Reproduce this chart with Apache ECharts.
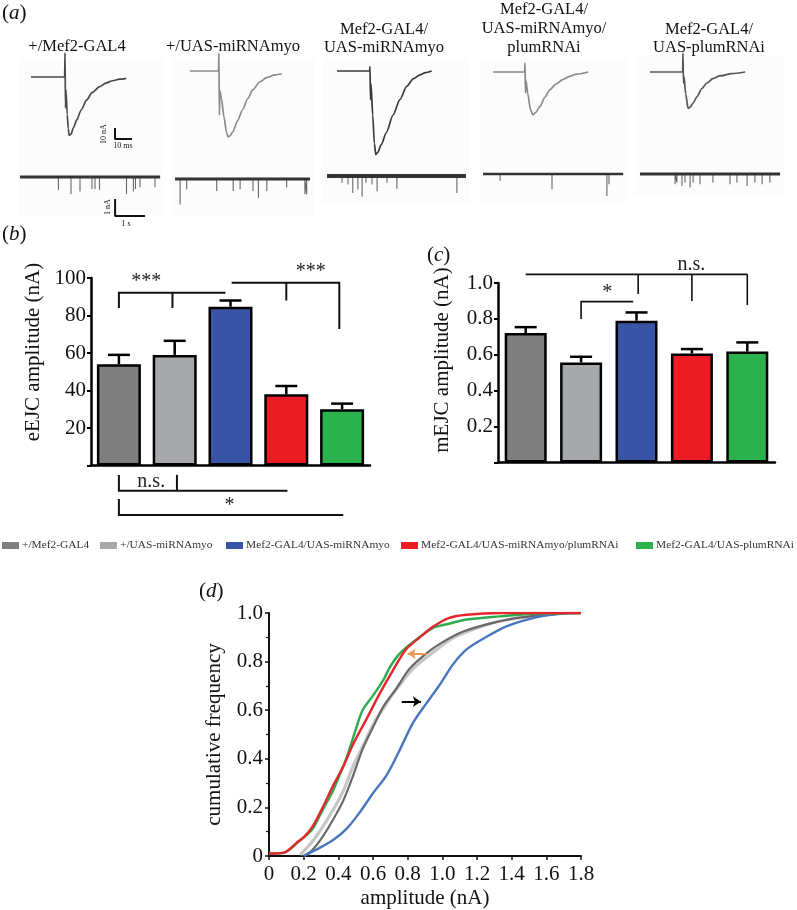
<!DOCTYPE html>
<html><head><meta charset="utf-8">
<script src="https://cdn.jsdelivr.net/npm/echarts@6/dist/echarts.min.js"></script>
<style>html,body{margin:0;padding:0;background:#fff}#c{width:797px;height:910px}</style>
</head><body><div id="c"></div>
<script>
// ---------------- DATA ----------------
const genotypes = ['+/Mef2-GAL4','+/UAS-miRNAmyo','Mef2-GAL4/UAS-miRNAmyo','Mef2-GAL4/UAS-miRNAmyo/plumRNAi','Mef2-GAL4/UAS-plumRNAi'];
const panelTitles = [['+/Mef2-GAL4'],['+/UAS-miRNAmyo'],['Mef2-GAL4/','UAS-miRNAmyo'],['Mef2-GAL4/','UAS-miRNAmyo/','plumRNAi'],['Mef2-GAL4/','UAS-plumRNAi']];
const barColors = ['#7f7f7f','#a7a8ab','#3a54a5','#ec1c24','#2bb24c'];

// (b) eEJC amplitude (nA)
const eEJCmean = [54, 59, 84.7, 38, 30];
const eEJCsem  = [5, 7.5, 3.3, 4.4, 3];
// (c) mEJC amplitude (nA)
const mEJCmean = [0.721, 0.557, 0.79, 0.607, 0.618];
const mEJCsem  = [0.033, 0.032, 0.046, 0.025, 0.051];

// (a) evoked traces [ms, nA]
const trace1 = [[0,0],[19.8,0],[20,22],[20.3,-28],[20.6,-12],[21.3,-34],[21.9,-47],[22.4,-53],[23.5,-52],[25,-46],[26.9,-39],[29.5,-30],[32.7,-21],[36,-14],[40.4,-8.8],[44,-5.5],[48,-3.4],[52,-2],[56,-1.2]];
const trace2 = [[0,0],[16.8,0],[17,16],[17.3,-40],[17.6,-18],[18.5,-25],[20,-42],[21.5,-56],[22.4,-60],[23.5,-59],[25.3,-55],[28,-45],[31,-35],[34,-25],[37,-17],[41,-10],[45,-6],[50,-3.5],[54,-2.5]];
const trace3 = [[0,0],[19.2,0],[19.4,4],[19.7,-26],[20,-12],[21,-40],[22,-66],[22.8,-76],[24,-74],[26,-67],[29,-56],[33,-40],[37,-26],[41,-14],[45,-7],[48.8,-3.6],[52,-1.5],[55.7,0]];
const trace4 = [[0,0],[18.6,0],[18.8,8],[19.1,-19],[19.4,-8],[20.5,-20],[22,-34],[23.5,-39],[25,-37],[27.6,-31.5],[30.5,-23],[33.5,-16],[37,-11],[41,-7],[45,-4],[49,-2],[56,0]];
const trace5 = [[0,0],[19.2,0],[19.4,17],[19.7,-10],[20,-4],[21,-20],[22.4,-33],[23.5,-32],[25.5,-28],[27.6,-22.5],[30.5,-15],[33.5,-10],[37,-6],[41,-3.6],[48,-1.5],[56,0]];
const traces = [trace1, trace2, trace3, trace4, trace5];

// (a) spontaneous recordings: length (s) and minis [time s, amplitude nA]
const noiseLength = [4.67, 4.5, 4.63, 4.67, 4.67];
const minis1 = [[1.28,0.75],[1.7,1.0],[2.0,0.85],[2.4,0.7],[2.5,0.7],[2.65,0.75],[3.55,1.0],[3.78,0.85],[3.85,0.7],[4.0,0.6],[4.5,0.6]];
const minis2 = [[0.17,1.5],[0.39,0.6],[1.39,0.7],[1.94,0.7],[2.17,0.6],[2.6,0.7],[2.78,1.1],[3.06,0.7],[3.72,0.5],[4.33,0.9],[4.39,0.9]];
const minis3 = [[0.5,0.4],[0.7,0.5],[0.86,1.0],[1.03,0.8],[1.17,1.2],[1.3,0.4],[1.5,0.5],[1.67,0.9],[2.0,0.4],[2.33,0.75],[4.33,1.0]];
const minis4 = [[0.57,0.4],[2.3,0.9],[4.13,1.3],[4.2,0.6]];
const minis5 = [[1.17,0.6],[1.23,0.5],[1.4,0.7],[1.5,0.5],[1.67,0.8],[1.77,0.5],[2.0,0.6],[2.43,0.5],[3.0,0.6],[3.23,0.5],[3.57,0.7],[3.83,0.5],[4.07,0.6],[4.33,0.5]];
const minis = [minis1, minis2, minis3, minis4, minis5];

// scale bars (in trace units)
const scaleEvoked = [[49.4,-46.4],[49.4,-56.4],[59.4,-56.4]];   // 10 nA, 10 ms
const scaleMini = [[3.17,-1.29],[3.17,-2.29],[4.17,-2.29]];      // 1 nA, 1 s

// (d) cumulative frequency curves [amplitude nA, cumulative frequency]
const cumLightGray = [[0.18,0.005],[0.25,0.06],[0.31,0.12],[0.37,0.19],[0.43,0.27],[0.485,0.37],[0.54,0.45],[0.6,0.54],[0.68,0.63],[0.75,0.7],[0.83,0.77],[0.95,0.84],[1.06,0.897],[1.2,0.938],[1.33,0.966],[1.52,0.986],[1.72,1.0]];
const cumDarkGray = [[0.2,0],[0.25,0.025],[0.31,0.08],[0.37,0.15],[0.43,0.23],[0.485,0.33],[0.54,0.44],[0.6,0.53],[0.66,0.615],[0.735,0.69],[0.81,0.77],[0.91,0.835],[0.99,0.875],[1.1,0.918],[1.24,0.95],[1.43,0.98],[1.62,0.993],[1.72,1.0]];
const cumBlue = [[0.2,0],[0.27,0.025],[0.37,0.066],[0.45,0.114],[0.52,0.176],[0.6,0.258],[0.68,0.334],[0.75,0.43],[0.83,0.547],[0.91,0.63],[0.99,0.71],[1.06,0.787],[1.14,0.85],[1.25,0.9],[1.37,0.945],[1.49,0.973],[1.6,0.99],[1.72,0.999],[1.8,1.0]];
const cumGreen = [[0,0.01],[0.08,0.012],[0.18,0.065],[0.25,0.11],[0.31,0.19],[0.37,0.27],[0.45,0.41],[0.5,0.52],[0.54,0.6],[0.6,0.66],[0.66,0.725],[0.7,0.78],[0.75,0.83],[0.83,0.88],[0.95,0.94],[0.99,0.948],[1.06,0.96],[1.14,0.973],[1.33,0.986],[1.52,0.997],[1.8,1.0]];
const cumRed = [[0,0.01],[0.09,0.015],[0.16,0.055],[0.2,0.077],[0.25,0.12],[0.31,0.2],[0.37,0.29],[0.43,0.37],[0.485,0.46],[0.56,0.56],[0.64,0.67],[0.72,0.77],[0.79,0.85],[0.87,0.9],[0.95,0.945],[1.04,0.98],[1.14,0.993],[1.33,1.0],[1.8,1.0]];
const arrowOrange = [[0.91,0.832],[0.80,0.832]];
const arrowBlack = [[0.766,0.635],[0.876,0.635]];

// significance brackets (category index, value)
const bBrackets = [
  [[0,84],[0,92.2],[1.91,92.2]], [[0.96,84],[0.96,92.2]],
  [[2.02,97.5],[3.95,97.5],[3.95,72.8]], [[3.0,88],[3.0,97.5]],
  [[0,-5],[0,-13.4],[3.02,-13.4]], [[1.04,-5],[1.04,-13.4]],
  [[0,-17.9],[0,-26.4],[4.02,-26.4]]
];
const bLabels = [[0.49,98,'***'],[3.44,103.4,'***'],[0.58,-8.6,'n.s.'],[1.98,-21.5,'*']];
const cBrackets = [
  [[0,1.048],[4.0,1.048]], [[2.03,0.939],[2.03,1.048]], [[3.0,0.90],[3.0,1.048]], [[4.0,0.877],[4.0,1.048]],
  [[1.0,0.80],[1.0,0.896],[1.94,0.896]]
];
const cLabels = [[2.99,1.10,'n.s.'],[1.47,0.945,'*']];

// ---------------- LAYOUT / OPTIONS ----------------
const FF = '"Liberation Serif", "Times New Roman", serif';
const evokedGrid = [[31,44],[190,38],[337,38],[493,39],[650,39]];
const miniGrid = [[20,168.5],[175,170.5],[327,167.5],[483,165.5],[640,165.5]];
const traceColors = ['#4a4a4a','#8a8a8a','#3a3a3a','#8a8a8a','#555555'];
const bandWidths = [3,3,4,2.5,3];

const grids = [], xAxes = [], yAxes = [], series = [];
function hiddenAxes(gi, xmin, xmax, ymin, ymax){
  xAxes.push({gridIndex:gi, type:'value', min:xmin, max:xmax, show:false});
  yAxes.push({gridIndex:gi, type:'value', min:ymin, max:ymax, show:false});
}
// evoked
evokedGrid.forEach((g,i)=>{
  grids.push({left:g[0], top:g[1], width:102, height:121});
  hiddenAxes(i, 0, 60, -80, 30);
  series.push({type:'line', xAxisIndex:i, yAxisIndex:i, data:traces[i], showSymbol:false, smooth:0.25, smoothMonotone:'x',
    lineStyle:{color:traceColors[i], width:1.7}, silent:true});
});
// minis
miniGrid.forEach((g,i)=>{
  const gi = 5+i;
  grids.push({left:g[0], top:g[1], width:150, height:59.5});
  hiddenAxes(gi, 0, 5, -3, 0.5);
  const pts = [[0,0]];
  minis[i].forEach(([t,a])=>{pts.push([t,0],[t,-a],[t,0]);});
  pts.push([noiseLength[i],0]);
  series.push({type:'line', xAxisIndex:gi, yAxisIndex:gi, data:pts, showSymbol:false, lineStyle:{color:'#666', width:1.1}, silent:true});
  series.push({type:'line', xAxisIndex:gi, yAxisIndex:gi, data:[[0,0],[noiseLength[i],0]], showSymbol:false, lineStyle:{color:'#333', width:bandWidths[i]}, silent:true});
});
// scale bars
series.push({type:'line', xAxisIndex:0, yAxisIndex:0, data:scaleEvoked, showSymbol:false, lineStyle:{color:'#111', width:2}, silent:true});
series.push({type:'line', xAxisIndex:5, yAxisIndex:5, data:scaleMini, showSymbol:false, lineStyle:{color:'#111', width:2}, silent:true});

// bar panels
function barPanel(gi, xCat, xVal, yi, left, top, width, height, means, sems, ymax, fmt, bw, brackets, labels, blw){
  grids.push({left, top, width, height});
  xAxes[xCat] = {gridIndex:gi, type:'category', data:genotypes, axisLine:{onZero:false, lineStyle:{color:'#000', width:2.5}}, axisTick:{show:false}, axisLabel:{show:false}};
  xAxes[xVal] = {gridIndex:gi, type:'value', min:-0.5, max:4.5, show:false};
  yAxes[yi] = {gridIndex:gi, type:'value', min:0, max:ymax, interval:ymax/5, splitLine:{show:false},
    axisLine:{show:true, onZero:false, lineStyle:{color:'#000', width:2.5}}, axisTick:{show:true, length:4, lineStyle:{color:'#000', width:2}},
    axisLabel:{fontFamily:FF, fontSize:21, color:'#111', margin:5, formatter:fmt}};
  genotypes.forEach((g,i)=>{
    series.push({type:'bar', name:g, xAxisIndex:xCat, yAxisIndex:yi, data:means.map((v,j)=> j===i ? v : '-'),
      barWidth:bw, barGap:'-100%', itemStyle:{color:barColors[i], borderColor:'#000', borderWidth:2.5}, silent:true});
  });
  series.push({type:'custom', xAxisIndex:xVal, yAxisIndex:yi, z:4, silent:true,
    data: means.map((m,i)=>[i,m,sems[i]]),
    renderItem(params, api){
      const x=api.value(0), m=api.value(1), e=api.value(2);
      const p1=api.coord([x,m]), p2=api.coord([x,m+e]); const hw=11;
      return {type:'group', children:[
        {type:'line', shape:{x1:p1[0],y1:p1[1],x2:p2[0],y2:p2[1]}, style:{stroke:'#000', lineWidth:2.5}},
        {type:'line', shape:{x1:p2[0]-hw,y1:p2[1],x2:p2[0]+hw,y2:p2[1]}, style:{stroke:'#000', lineWidth:2.5}}]};
    }});
  series.push({type:'custom', xAxisIndex:xVal, yAxisIndex:yi, z:4, silent:true, clip:false,
    data: brackets.map((l,i)=>[l[0][0], l[0][1], i]),
    renderItem(params, api){
      const pts = brackets[params.dataIndex].map(p=>api.coord(p));
      return {type:'polyline', shape:{points:pts}, style:{stroke:'#111', lineWidth:blw, fill:null}};
    }});
  series.push({type:'custom', xAxisIndex:xVal, yAxisIndex:yi, z:4, silent:true, clip:false,
    data: labels.map((l,i)=>[l[0], l[1], i]),
    renderItem(params, api){
      const l = labels[params.dataIndex]; const p = api.coord([l[0], l[1]]);
      return {type:'text', x:p[0], y:p[1], style:{text:l[2], font:'20px '+FF, fill:'#222', align:'center', verticalAlign:'middle'}};
    }});
}
barPanel(10, 10, 11, 10, 91, 278, 279, 187.5, eEJCmean, eEJCsem, 100, v=> v===0 ? '' : String(v), 44, bBrackets, bLabels, 2);
barPanel(11, 12, 13, 11, 498, 283, 277, 179.5, mEJCmean, mEJCsem, 1.0, v=> v===0 ? '' : v.toFixed(1), 42, cBrackets, cLabels, 1.6);

// (d) cumulative
grids.push({left:269, top:613, width:312, height:243});
xAxes[14] = {gridIndex:12, type:'value', min:0, max:1.8, interval:0.2, name:'amplitude (nA)', nameLocation:'middle', nameGap:32,
  nameTextStyle:{fontFamily:FF, fontSize:21, color:'#111'},
  axisLine:{onZero:false, lineStyle:{color:'#111', width:2}}, axisTick:{show:true, length:4, lineStyle:{color:'#111', width:1.5}},
  axisLabel:{fontFamily:FF, fontSize:21, color:'#111', margin:8, formatter:v=> v===0 ? '0' : v.toFixed(1)}, splitLine:{show:false}};
yAxes[12] = {gridIndex:12, type:'value', min:0, max:1, interval:0.2, name:'cumulative frequency', nameLocation:'middle', nameGap:44,
  nameTextStyle:{fontFamily:FF, fontSize:21, color:'#111'},
  axisLine:{show:true, onZero:false, lineStyle:{color:'#111', width:2}}, axisTick:{show:true, length:4, lineStyle:{color:'#111', width:1.5}},
  minorTick:{show:true, splitNumber:2, length:3, lineStyle:{color:'#111', width:1.2}},
  axisLabel:{fontFamily:FF, fontSize:21, color:'#111', margin:6, formatter:v=> v===0 ? '0' : v.toFixed(1)}, splitLine:{show:false}};
const cumSets = [
  ['cum +/UAS-miRNAmyo', cumLightGray, '#c6c6c6', 3.2],
  ['cum +/Mef2-GAL4', cumDarkGray, '#686868', 2.2],
  ['cum Mef2-GAL4/UAS-miRNAmyo', cumBlue, '#4a76bd', 2.4],
  ['cum Mef2-GAL4/UAS-plumRNAi', cumGreen, '#2eaa4e', 2.4],
  ['cum Mef2-GAL4/UAS-miRNAmyo/plumRNAi', cumRed, '#e3252c', 2.4]
];
cumSets.forEach(([n,d,c,w],i)=>{
  const s = {type:'line', name:n, xAxisIndex:14, yAxisIndex:12, data:d, showSymbol:false, smooth:0.3, lineStyle:{color:c, width:w}, silent:true};
  if (i===4) {
    s.markLine = {silent:true, symbol:['none','arrow'], symbolSize:8, label:{show:false},
      data:[
        [{coord:arrowOrange[0], lineStyle:{color:'#e89a55', width:2, type:'solid'}, itemStyle:{color:'#e89a55'}}, {coord:arrowOrange[1]}],
        [{coord:arrowBlack[0], lineStyle:{color:'#000', width:2, type:'solid'}, itemStyle:{color:'#000'}}, {coord:arrowBlack[1]}]
      ]};
  }
  series.push(s);
});

// legends
const legendLeft = [2, 100, 226, 401, 636];
const legends = genotypes.map((g,i)=>({data:[g], left:legendLeft[i], top:540, icon:'rect', itemWidth:17, itemHeight:7, padding:0, itemGap:4,
  selectedMode:false, itemStyle:{borderWidth:0}, textStyle:{fontFamily:FF, fontSize:11.4, color:'#333', padding:[0,0,0,-2]}}));

// graphics (texts)
function txt(x,y,text,size,extra){
  extra = extra||{};
  return {type:'text', x, y, rotation:extra.rot||0, silent:true, z:10,
    style:{text, font:size+'px '+FF, fill:extra.fill||'#111', align:extra.align||'center', verticalAlign:'middle'}};
}
function panelLabel(x,y,letter){
  return {type:'text', x, y, silent:true, z:10,
    style:{text:'{n|(}{i|'+letter+'}{n|)}', align:'left', verticalAlign:'middle',
      rich:{n:{font:'21px '+FF, fill:'#111'}, i:{font:'italic 21px '+FF, fill:'#111'}}}};
}
const titleCenters = [77, 233, 384, 544, 709];
const graphics = [];
[[18,58,145,158],[172,58,142,158],[322,58,148,146],[480,58,148,144],[635,55,150,140]].forEach(r=>{
  graphics.push({type:'rect', shape:{x:r[0], y:r[1], width:r[2], height:r[3]}, style:{fill:'#fcfcfc'}, z:-10, silent:true});
});
panelTitles.forEach((lines,i)=>{
  const n = lines.length; const lineYs = n===1 ? [47] : n===2 ? [30,48] : [10,29,48];
  lines.forEach((t,k)=> graphics.push(txt(titleCenters[i], lineYs[k], t, 16.5)));
});
graphics.push(panelLabel(2,13,'a'), panelLabel(2,234,'b'), panelLabel(427,255,'c'), panelLabel(199,591,'d'));
graphics.push(txt(104,134,'10 nA',8,{rot:Math.PI/2}), txt(123,146,'10 ms',8), txt(108,207,'1 nA',8,{rot:Math.PI/2}), txt(126,224,'1 s',8));
graphics.push(txt(33,352,'eEJC amplitude (nA)',21,{rot:Math.PI/2}), txt(442,360,'mEJC amplitude (nA)',21,{rot:Math.PI/2}));

const chart = echarts.init(document.getElementById('c'), null, {renderer:'canvas'});
chart.setOption({
  animation:false,
  backgroundColor:'#ffffff',
  textStyle:{fontFamily:FF},
  grid:grids, xAxis:xAxes, yAxis:yAxes, series, legend:legends, graphic:graphics
});
</script></body></html>
